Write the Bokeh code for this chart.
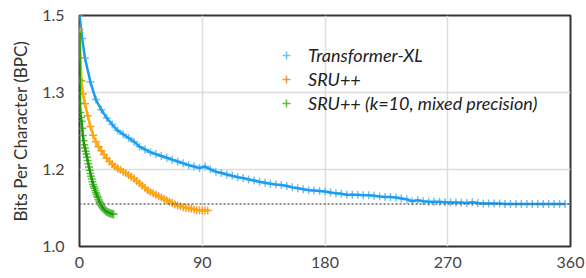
from bokeh.plotting import figure
from bokeh.models import Range1d, FixedTicker, Span, Legend, LegendItem
from bokeh.embed import file_html
from bokeh.resources import INLINE

# ---- data ----
x_ticks = [0, 90, 180, 270, 360]
y_ticks = [1.0, 1.1667, 1.3333, 1.5]
y_tick_labels = ["1.0", "1.2", "1.3", "1.5"]
target_bpc = 1.092

txl_x = [0, 2, 4, 8, 12, 16, 20, 24, 28, 32, 36, 40, 44, 48, 52, 56, 60, 64, 68, 72,
         76, 80, 84, 88, 92, 96, 100, 104, 108, 112, 116, 120, 124, 128, 132, 136, 140,
         144, 148, 152, 156, 160, 164, 168, 172, 176, 180, 184, 188, 192, 196, 200, 204,
         208, 212, 216, 220, 224, 228, 232, 236, 240, 244, 248, 252, 256, 260, 264, 268,
         272, 276, 280, 284, 288, 292, 296, 300, 304, 308, 312, 316, 320, 324, 328, 332,
         336, 340, 344, 348, 352, 356]
txl_y = [1.500, 1.450, 1.408, 1.356, 1.318, 1.296, 1.278, 1.264, 1.251, 1.243, 1.235,
         1.227, 1.216, 1.210, 1.204, 1.200, 1.196, 1.192, 1.188, 1.184, 1.180, 1.176,
         1.173, 1.170, 1.173, 1.167, 1.162, 1.159, 1.156, 1.153, 1.150, 1.148, 1.145,
         1.143, 1.140, 1.138, 1.136, 1.134, 1.133, 1.131, 1.128, 1.126, 1.124, 1.122,
         1.121, 1.120, 1.119, 1.117, 1.115, 1.114, 1.112, 1.112, 1.112, 1.111, 1.111,
         1.110, 1.108, 1.107, 1.107, 1.106, 1.104, 1.102, 1.098, 1.100, 1.098, 1.097,
         1.097, 1.097, 1.096, 1.095, 1.095, 1.095, 1.094, 1.096, 1.094, 1.093, 1.093,
         1.093, 1.093, 1.092, 1.092, 1.092, 1.092, 1.092, 1.092, 1.092, 1.092, 1.092,
         1.092, 1.092, 1.092]

sru_x = [0, 0.7, 1.5, 2.5, 4, 6, 8, 10, 12, 14, 16, 18, 20, 22, 24, 26, 28, 30, 32, 34,
         36, 38, 40, 42, 44, 46, 48, 50, 52, 54, 56, 58, 60, 62, 64, 66, 68, 70, 72, 74,
         76, 78, 80, 82, 84, 86, 88, 90, 92, 94]
sru_y = [1.470, 1.408, 1.358, 1.330, 1.309, 1.283, 1.260, 1.241, 1.227, 1.216, 1.207,
         1.199, 1.191, 1.184, 1.178, 1.173, 1.169, 1.166, 1.162, 1.159, 1.155, 1.151,
         1.147, 1.142, 1.137, 1.132, 1.127, 1.122, 1.118, 1.115, 1.112, 1.109, 1.106,
         1.103, 1.100, 1.097, 1.094, 1.091, 1.089, 1.087, 1.085, 1.084, 1.083, 1.082,
         1.080, 1.079, 1.078, 1.078, 1.078, 1.078]

mix_x = [0, 0.2, 0.4, 0.7, 1.0, 1.5, 2.0, 2.5, 3.0, 3.5, 4.0, 4.5, 5.0, 5.5, 6.0, 6.5,
         7.0, 7.5, 8.0, 8.5, 9.0, 9.5, 10.0, 10.5, 11.0, 11.5, 12.0, 12.5, 13.0, 13.5,
         14.0, 14.5, 15.0, 15.5, 16.0, 16.5, 17.0, 17.5, 18.0, 18.5, 19.0, 19.5, 20.0,
         20.5, 21.0, 21.5, 22.0, 22.5, 23.0, 23.5, 24.0, 24.5, 25.0]
mix_y = [1.463, 1.360, 1.310, 1.290, 1.280, 1.271, 1.256, 1.240, 1.229, 1.220, 1.213,
         1.206, 1.200, 1.193, 1.186, 1.179, 1.172, 1.165, 1.158, 1.152, 1.146, 1.140,
         1.134, 1.130, 1.126, 1.121, 1.117, 1.113, 1.109, 1.106, 1.102, 1.098, 1.095,
         1.092, 1.089, 1.086, 1.084, 1.082, 1.080, 1.079, 1.077, 1.076, 1.075, 1.074,
         1.074, 1.073, 1.072, 1.072, 1.071, 1.071, 1.071, 1.070, 1.070]

series_names = ["Transformer-XL", "SRU++", "SRU++ (k=10, mixed precision)"]

FONT = "Lato"

p = figure(width=586, height=278, x_range=Range1d(0, 360), y_range=Range1d(1.0, 1.5),
           output_backend="svg", toolbar_location=None,
           min_border_left=79, min_border_right=16, min_border_top=15, min_border_bottom=32)
p.background_fill_color = "white"
p.border_fill_color = "white"
p.outline_line_color = "#333333"
p.outline_line_width = 2

p.xaxis.ticker = FixedTicker(ticks=x_ticks)
p.yaxis.ticker = FixedTicker(ticks=y_ticks)
p.yaxis.major_label_overrides = {t: l for t, l in zip(y_ticks, y_tick_labels)}
p.xgrid.ticker = FixedTicker(ticks=x_ticks)
p.ygrid.ticker = FixedTicker(ticks=y_ticks)
for g in (p.xgrid, p.ygrid):
    g.grid_line_color = "#dcdcdc"
    g.grid_line_width = 1.5

for ax in (p.xaxis, p.yaxis):
    ax.axis_line_color = None
    ax.major_tick_line_color = None
    ax.minor_tick_line_color = None
    ax.major_tick_out = 0
    ax.major_tick_in = 0
    ax.major_label_text_font = FONT
    ax.major_label_text_font_size = "16px"
    ax.major_label_text_color = "#444444"
p.xaxis.major_label_standoff = 10
p.yaxis.major_label_standoff = 15
p.yaxis.axis_label = "Bits Per Character (BPC)"
p.yaxis.axis_label_text_font = FONT
p.yaxis.axis_label_text_font_style = "normal"
p.yaxis.axis_label_text_font_size = "17px"
p.yaxis.axis_label_text_color = "#333333"
p.yaxis.axis_label_standoff = 8

p.add_layout(Span(location=target_bpc, dimension="width", line_color="#666666",
                  line_width=1.5, line_dash="2 2"))

styles = [
    (txl_x, txl_y, "#1a9cf5", "#6cc0f2"),
    (sru_x, sru_y, "#ffab00", "#f29a2e"),
    (mix_x, mix_y, "#1f9a0a", "#5cc045"),
]
items = []
for (xs, ys, lc, mc), name in zip(styles, series_names):
    sc = p.scatter(xs, ys, marker="cross", size=8, line_color=mc, line_width=1.5)
    p.line(xs, ys, line_color=lc, line_width=2.5)
    items.append(LegendItem(label=name, renderers=[sc]))

legend = Legend(items=items, location=(197, 132))
legend.background_fill_alpha = 0
legend.border_line_color = None
legend.padding = 0
legend.margin = 0
legend.spacing = 2
legend.glyph_width = 20
legend.glyph_height = 20
legend.label_standoff = 12
legend.label_text_font = FONT
legend.label_text_font_style = "italic"
legend.label_text_font_size = "18px"
legend.label_text_color = "#222222"
p.add_layout(legend, "center")

open("out.html", "w").write(file_html(p, INLINE))
